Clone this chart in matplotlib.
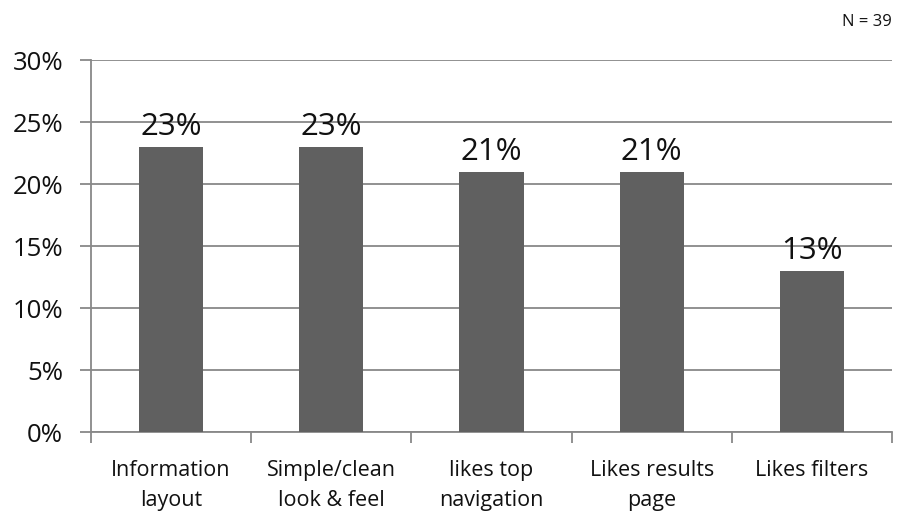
import matplotlib
matplotlib.use('agg')
import matplotlib.pyplot as plt
import numpy as np

# data
categories = ['Information\nlayout', 'Simple/clean\nlook & feel', 'likes top\nnavigation',
              'Likes results\npage', 'Likes filters']
values = [23, 23, 21, 21, 13]
yticks = [0, 5, 10, 15, 20, 25, 30]
note = 'N = 39'

BAR = '#606060'
GRID = '#888888'

plt.rcParams['font.family'] = ['Open Sans', 'DejaVu Sans']

fig = plt.figure(figsize=(8.98, 5.13), dpi=100)
ax = fig.add_axes([91/898, 81/513, 801/898, 372/513])

x = np.arange(len(categories))
ax.bar(x, values, width=0.4, color=BAR, zorder=3)
for xi, v in zip(x, values):
    ax.text(xi, v + 0.95, f'{v}%', ha='center', va='baseline', fontsize=22.5, color='#111111', zorder=4)

ax.set_xlim(-0.5, len(categories) - 0.5)
ax.set_ylim(0, 30)
ax.set_yticks(yticks)
ax.set_yticklabels([f'{t}%' for t in yticks], fontsize=18.5, color='#111111')
ax.yaxis.grid(True, color=GRID, lw=1.3, zorder=0)

# category labels sit between boundary tick marks
ax.set_xticks(x)
ax.set_xticklabels(categories, fontsize=15.5, color='#111111', linespacing=1.55)
ax.tick_params(axis='x', length=0, pad=20)
ax.set_xticks(np.arange(-0.5, len(categories)), minor=True)
ax.tick_params(axis='x', which='minor', length=8, width=1.3, color=GRID, direction='out')
ax.tick_params(axis='y', length=8, width=1.3, color=GRID, pad=12)

for s in ['top', 'right']:
    ax.spines[s].set_visible(False)
for s in ['left', 'bottom']:
    ax.spines[s].set_color(GRID)
    ax.spines[s].set_linewidth(1.3)

fig.text(892/898, 1 - 22/513, note, ha='right', va='center', fontsize=12, color='#111111')

fig.savefig('out.png', dpi=100)
